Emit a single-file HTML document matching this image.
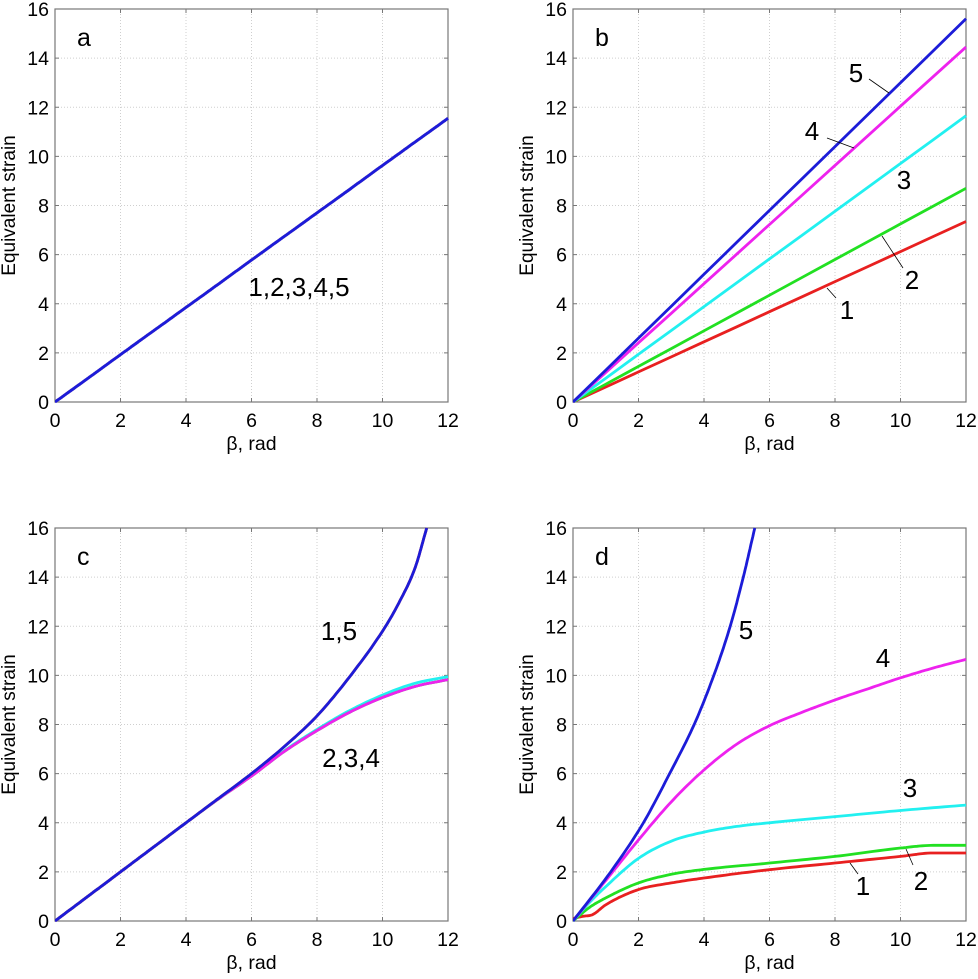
<!DOCTYPE html>
<html><head><meta charset="utf-8"><style>
body{margin:0;background:#fff}
svg text{font-family:"Liberation Sans",sans-serif;fill:#000}
</style></head><body>
<svg id="chart" width="978" height="974" viewBox="0 0 978 974" xmlns="http://www.w3.org/2000/svg"></svg>
<script>
const xTicks=[0,2,4,6,8,10,12];
const yTicks=[0,2,4,6,8,10,12,14,16];
const xs=[0,1,2,3,4,5,6,7,8,9,10,11,12];
// panel a
const aAll=[0,0.96,1.93,2.89,3.85,4.81,5.78,6.74,7.70,8.66,9.63,10.59,11.55];
// panel b (value at x=12, linear)
const bEnd=[7.35,8.7,11.65,14.45,15.6];
// panel c
const cX=[0,1,2,3,4,5,6,7,8,9,10,10.5,11,11.35];
const c15=[0,1,2,3,4,5,6.0,7.1,8.35,9.95,11.8,12.95,14.4,16];
const cX2=[0,1,2,3,4,5,6,7,8,9,10,11,12];
const c234=[0,1,2,3,4,4.98,5.9,6.9,7.75,8.5,9.1,9.55,9.83];
const c3=[0,1,2,3,4,4.98,5.92,6.93,7.8,8.57,9.2,9.68,9.95];
// panel d
const d5X=[0,1.15,2.15,2.95,3.7,4.3,4.8,5.2,5.55];
const d5=[0,2,4,6,8,10,12,14,16];
const d4X=[0,1,2,3,4,5,6,7,8,9,10,11,12];
const d4=[0,1.65,3.3,4.85,6.15,7.2,7.95,8.5,9.0,9.45,9.9,10.3,10.65];
const d3X=[0,0.5,1,2,3,4,5,6,8,10,12];
const d3=[0,0.75,1.4,2.55,3.25,3.62,3.85,4.0,4.25,4.5,4.72];
const d2X=[0,0.5,1,2,3,4,6,8,10,11,12];
const d2=[0,0.55,0.94,1.55,1.9,2.1,2.36,2.63,2.97,3.08,3.08];
const d1X=[0,0.3,0.6,1,2,3,4,6,8,10,11,12];
const d1=[0.1,0.19,0.26,0.66,1.28,1.55,1.75,2.09,2.36,2.63,2.77,2.77];

const NS="http://www.w3.org/2000/svg";
const svg=document.getElementById('chart');
function mk(tag,attrs,parent){const e=document.createElementNS(NS,tag);for(const k in attrs)e.setAttribute(k,attrs[k]);(parent||svg).appendChild(e);return e;}
const panels={a:{x0:55,y0:402},b:{x0:573,y0:402},c:{x0:55,y0:921},d:{x0:573,y0:921}};
const W=393,H=393;
function sx(p,v){return p.x0+v/12*W;}
function sy(p,v){return p.y0-v/16*H;}
function monoPath(p,X,Y){
  const n=X.length,dl=[],m=new Array(n);
  for(let i=0;i<n-1;i++)dl.push((Y[i+1]-Y[i])/(X[i+1]-X[i]));
  m[0]=dl[0];m[n-1]=dl[n-2];
  for(let i=1;i<n-1;i++){m[i]=(dl[i-1]*dl[i]<=0)?0:(dl[i-1]+dl[i])/2;}
  for(let i=0;i<n-1;i++){if(dl[i]===0){m[i]=0;m[i+1]=0;continue;}
    const a=m[i]/dl[i],b=m[i+1]/dl[i],s=a*a+b*b;if(s>9){const t=3/Math.sqrt(s);m[i]=t*a*dl[i];m[i+1]=t*b*dl[i];}}
  let d='';
  for(let i=0;i<n-1;i++){const h=X[i+1]-X[i];
    for(let k=0;k<=12;k++){if(i>0&&k===0)continue;const t=k/12,t2=t*t,t3=t2*t;
      const y=(2*t3-3*t2+1)*Y[i]+(t3-2*t2+t)*h*m[i]+(-2*t3+3*t2)*Y[i+1]+(t3-t2)*h*m[i+1];
      const x=X[i]+t*h;d+=(d?' L':'M')+sx(p,x).toFixed(1)+','+sy(p,y).toFixed(1);}}
  return d;
}
function axes(key,g){
  const p=panels[key];
  xTicks.forEach(t=>{
    const x=sx(p,t);
    if(t>0&&t<12){const gl=mk('line',{x1:x,y1:p.y0,x2:x,y2:p.y0-H,stroke:'#cfcfcf','stroke-dasharray':'1,2','stroke-width':1},g);
      mk('line',{x1:x,y1:p.y0,x2:x,y2:p.y0-4,stroke:'#777'},g);mk('line',{x1:x,y1:p.y0-H,x2:x,y2:p.y0-H+4,stroke:'#777'},g);}
    const tl=mk('text',{x:x,y:p.y0+25,'text-anchor':'middle','font-size':19.5},g);tl.textContent=t;
    
  });
  yTicks.forEach(t=>{
    const y=sy(p,t);
    if(t>0&&t<16){const gl=mk('line',{x1:p.x0,y1:y,x2:p.x0+W,y2:y,stroke:'#cfcfcf','stroke-dasharray':'1,2','stroke-width':1},g);
      mk('line',{x1:p.x0,y1:y,x2:p.x0+4,y2:y,stroke:'#777'},g);mk('line',{x1:p.x0+W,y1:y,x2:p.x0+W-4,y2:y,stroke:'#777'},g);}
    const tl=mk('text',{x:p.x0-6,y:y+7,'text-anchor':'end','font-size':19.5},g);tl.textContent=t;
    
  });
  const fr=mk('rect',{x:p.x0,y:p.y0-H,width:W,height:H,fill:'none',stroke:'#777','stroke-width':1.2},g);
  
  const xl=mk('text',{x:p.x0+W/2,y:p.y0+48,'text-anchor':'middle','font-size':19.5},g);xl.textContent='β, rad';
  
  const yl=mk('text',{x:0,y:0,'text-anchor':'middle','font-size':19,transform:`translate(${p.x0-40},${p.y0-H/2}) rotate(-90)`},g);yl.textContent='Equivalent strain';
  
  const pl=mk('text',{x:p.x0+22,y:p.y0-H+37,'font-size':25},g);pl.textContent=key;
  
}
function curve(key,g,X,Y,color,name){
  const c=mk('path',{d:monoPath(panels[key],X,Y),fill:'none',stroke:color,'stroke-width':2.8,'stroke-linejoin':'round'},g);
  
}
function label(g,x,y,t,name,size){const e=mk('text',{x:x,y:y,'text-anchor':'middle','font-size':size||26},g);e.textContent=t;
  }
function leader(g,x1,y1,x2,y2){const e=mk('line',{x1,y1,x2,y2,stroke:'#000','stroke-width':0.8},g);
  }
const colors=['#e82020','#22e022','#22f0f0','#ee22ee','#1c1cd8'];
const clip=mk('defs',{});
Object.keys(panels).forEach(k=>{const p=panels[k];const cp=mk('clipPath',{id:'clip-'+k},clip);mk('rect',{x:p.x0,y:p.y0-H-1,width:W+1,height:H+2},cp);});
['a','b','c','d'].forEach(k=>{
  const g=mk('g',{});
  
  axes(k,g);
  const cg=mk('g',{'clip-path':`url(#clip-${k})`},g);
  if(k==='a'){ for(let i=0;i<5;i++) curve('a',cg,xs,aAll,i===4?'#1c1cd8':colors[i],'curve-'+(i+1)); }
  if(k==='b'){ bEnd.forEach((v,i)=>curve('b',cg,[0,12],[0,v],colors[i],'curve-'+(i+1))); }
  if(k==='c'){ curve('c',cg,cX2,c3,colors[2],'curve-3'); curve('c',cg,cX2,c234,colors[1],'curve-2'); curve('c',cg,cX2,c234,colors[3],'curve-4');
    curve('c',cg,cX,c15,colors[0],'curve-1'); curve('c',cg,cX,c15,colors[4],'curve-5'); }
  if(k==='d'){ curve('d',cg,d1X,d1,colors[0],'curve-1'); curve('d',cg,d2X,d2,colors[1],'curve-2'); curve('d',cg,d3X,d3,colors[2],'curve-3');
    curve('d',cg,d4X,d4,colors[3],'curve-4'); curve('d',cg,d5X,d5,colors[4],'curve-5'); }
  if(k==='a') label(g,299,296,'1,2,3,4,5','curve-label-a');
  if(k==='b'){ label(g,856,82,'5','curve-label-5');leader(g,869,79,889,93);
    label(g,812,140,'4','curve-label-4');leader(g,827,138,854,148);
    label(g,904,189,'3','curve-label-3');
    label(g,912,289,'2','curve-label-2');leader(g,882,236,903,268);
    label(g,847,319,'1','curve-label-1');leader(g,827,288,836,298); }
  if(k==='c'){ label(g,339,640,'1,5','curve-label-15');label(g,351,767,'2,3,4','curve-label-234'); }
  if(k==='d'){ label(g,746,639,'5','curve-label-5');label(g,883,667,'4','curve-label-4');label(g,910,797,'3','curve-label-3');
    label(g,863,895,'1','curve-label-1');leader(g,850,863,858,874);
    label(g,921,890,'2','curve-label-2');leader(g,906,849,913,865); }
});
</script>
</body></html>
